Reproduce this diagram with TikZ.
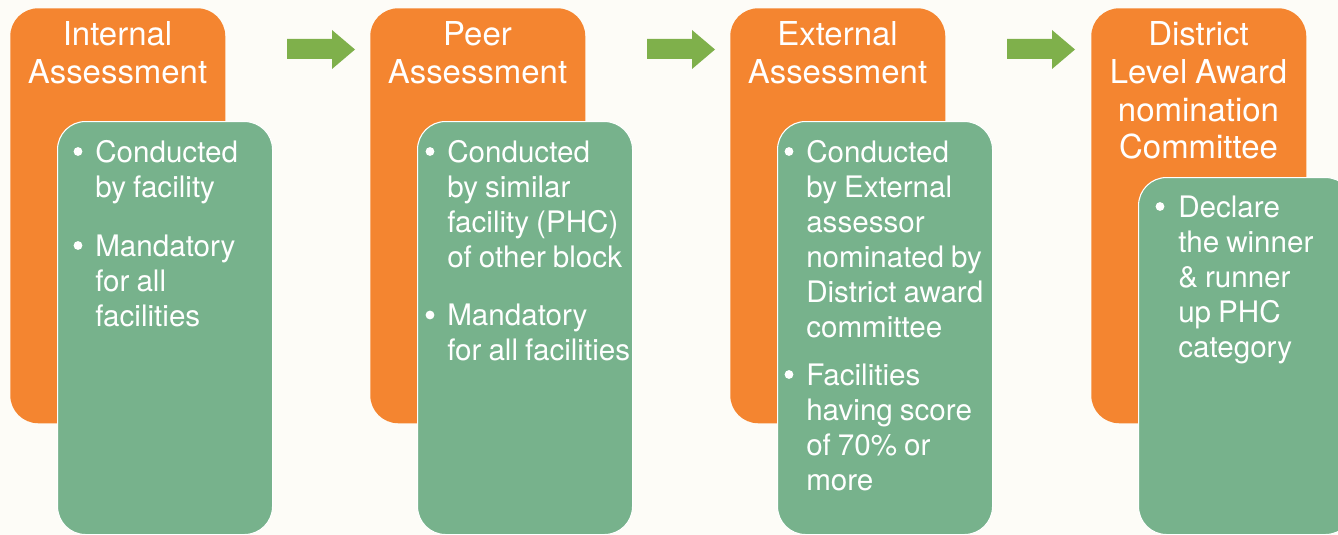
\documentclass[tikz,border=0pt]{standalone}
\usepackage{fontspec}
\setmainfont[WordSpace=0.85]{TeX Gyre Heros}
\definecolor{stageorange}{HTML}{F48530}
\definecolor{detailgreen}{HTML}{77B28C}
\definecolor{flowgreen}{HTML}{7FB04B}
\definecolor{paper}{HTML}{FDFCF7}

% one node per text line: #1 name prefix, #2 x, #3 first baseline, #4 step, #5 style, #6 lines
\newcommand\linesat[6]{%
  \foreach \txt [count=\i] in {#6} {%
    \node[#5] (#1-\i) at (#2, {#3+#4*(\i-1)}) {\txt};
  }%
}

\begin{document}
\begin{tikzpicture}[x=0.75pt,y=-0.75pt,
  stagebox/.style={fill=stageorange, rounded corners=21pt, minimum width=161.25pt,
    minimum height=311.25pt, anchor=north west, inner sep=0pt},
  detailbox/.style={fill=detailgreen, draw=white, line width=0.8pt, rounded corners=21pt,
    minimum width=161.25pt, minimum height=309.75pt, anchor=north west, inner sep=0pt},
  titleline/.style={text=white, font=\fontsize{24.7}{28}\selectfont, anchor=base, inner sep=0pt},
  itemline/.style={text=white, font=\fontsize{22.2}{26}\selectfont, anchor=base west, inner sep=0pt},
  dot/.style={circle, fill=white, inner sep=0pt, minimum size=6.6pt},
  flow/.style={fill=flowgreen}]

\fill[paper] (0,0) rectangle (1338,535);
\useasboundingbox (0,0) rectangle (1338,535);
\clip (0,0) rectangle (1338,535);

% stage boxes and their detail boxes
\node[stagebox] (s1) at (10,8) {};
\node[detailbox] (d1) at (57,121) {};
\node[stagebox] (s2) at (370,8) {};
\node[detailbox] (d2) at (417,121) {};
\node[stagebox] (s3) at (730,8) {};
\node[detailbox] (d3) at (777,121) {};
\node[stagebox] (s4) at (1091,8) {};
\node[detailbox, minimum height=267.75pt] (d4) at (1138,177) {};

% block arrows between the stages
\foreach \dx in {0,360,720} {
  \fill[flow, shift={(\dx,0)}] (287,39) -- (332,39) -- (332,30) -- (355,49.5)
    -- (332,69) -- (332,59) -- (287,59) -- cycle;
}

% stage titles
\linesat{t1}{117.5}{46}{37.7}{titleline}{Internal,Assessment}
\linesat{t2}{477.5}{46}{37.7}{titleline}{Peer,Assessment}
\linesat{t3}{837.5}{46}{37.7}{titleline}{External,Assessment}
\linesat{t4}{1198.5}{45.5}{37.8}{titleline}{District,Level Award,nomination,Committee}

% stage 1 details
\node[dot] (b1a) at (78,151.5) {};
\linesat{i1a}{95}{162}{35}{itemline}{Conducted,by facility}
\node[dot] (b1b) at (78,245.5) {};
\linesat{i1b}{95}{256}{35}{itemline}{Mandatory,for all,facilities}

% stage 2 details
\node[dot] (b2a) at (430,151.5) {};
\linesat{i2a}{447}{162}{35}{itemline}{Conducted,by similar,facility (PHC),of other block}
\node[dot] (b2b) at (430,315) {};
\linesat{i2b}{447}{325.5}{35}{itemline}{Mandatory,for all facilities}

% stage 3 details
\node[dot] (b3a) at (789,151.5) {};
\linesat{i3a}{806}{162}{35}{itemline}{Conducted,by External,assessor,nominated by,District award,committee}
\node[dot] (b3b) at (789,374.5) {};
\linesat{i3b}{806}{385}{35}{itemline}{Facilities,having score,of 70\% or,more}

% stage 4 details
\node[dot] (b4a) at (1160,206.5) {};
\linesat{i4a}{1178}{217}{35}{itemline}{Declare,the winner,\& runner,up PHC,category}
\end{tikzpicture}
\end{document}
